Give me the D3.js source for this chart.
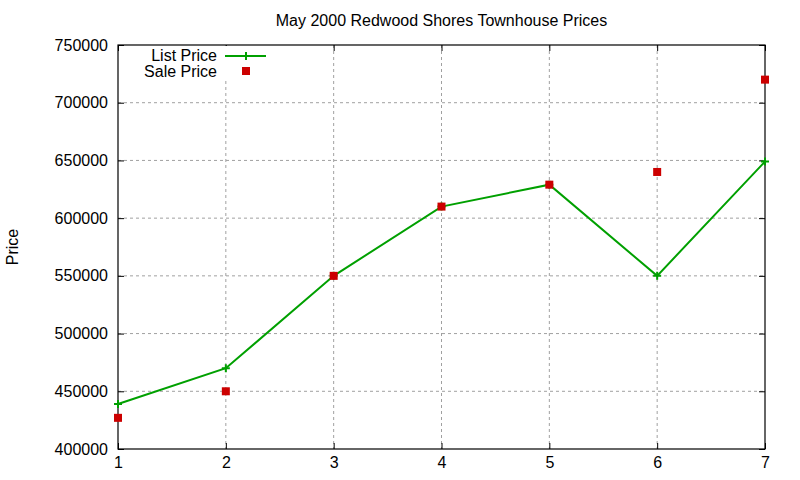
<!DOCTYPE html>
<html>
<head>
<meta charset="utf-8">
<script src="https://cdn.jsdelivr.net/npm/d3@7"></script>
<style>
  body { margin: 0; background: #fff; }
  text { font-family: "Liberation Sans", Arial, sans-serif; fill: #000; }
</style>
</head>
<body>
<svg width="800" height="480"></svg>
<script>
const days = [1, 2, 3, 4, 5, 6, 7];
const listPrice = [439000, 470000, 550000, 610000, 629000, 550000, 649000];
const salePrice = [427000, 450000, 550000, 610000, 629000, 640000, 720000];
const yTicks = [400000, 450000, 500000, 550000, 600000, 650000, 700000, 750000];

const margin = { left: 118, right: 35, top: 45, bottom: 31 };
const svg = d3.select('svg');
const width = +svg.attr('width');
const height = +svg.attr('height');
const innerWidth = width - margin.left - margin.right;
const innerHeight = height - margin.top - margin.bottom;

const g = svg.append('g')
	.attr('transform', `translate(${margin.left}, ${margin.top})`);

const xScale = d3.scaleLinear().domain([1, 7]).range([0, innerWidth]);
const yScale = d3.scaleLinear().domain([400000, 750000]).range([innerHeight, 0]);

// grid
g.selectAll('.vgrid')
	.data(days.slice(1, -1))
	.enter().append('line')
	.attr('x1', d => xScale(d)).attr('x2', d => xScale(d))
	.attr('y1', 0).attr('y2', innerHeight)
	.attr('stroke', '#a0a0a0').attr('stroke-dasharray', '3,3');

g.selectAll('.hgrid')
	.data(yTicks.slice(1, -1))
	.enter().append('line')
	.attr('x1', 0).attr('x2', innerWidth)
	.attr('y1', d => yScale(d)).attr('y2', d => yScale(d))
	.attr('stroke', '#a0a0a0').attr('stroke-dasharray', '3,3');

// axes (gnuplot style: ticks inside, mirrored)
const tickLen = 6;
const yAxis = d3.axisLeft(yScale).tickValues(yTicks).tickSize(-tickLen).tickPadding(10).tickFormat(d3.format('d'));
const yAxisR = d3.axisRight(yScale).tickValues(yTicks).tickSize(-tickLen);
const xAxis = d3.axisBottom(xScale).tickValues(days).tickSize(-tickLen).tickPadding(8).tickFormat(d3.format('d'));
const xAxisT = d3.axisTop(xScale).tickValues(days).tickSize(-tickLen);

function styleAxis(sel) {
	sel.attr('font-size', 16)
		.attr('font-family', '"Liberation Sans", Arial, sans-serif')
		.attr('fill', '#000');
	sel.select('.domain').remove();
	sel.selectAll('.tick line').attr('stroke', '#000');
}
// mirrored axes only need the tick marks
function ticksOnly(sel) {
	styleAxis(sel);
	sel.selectAll('.tick text').remove();
}

g.append('g').call(yAxis).call(styleAxis);
g.append('g').attr('transform', `translate(${innerWidth},0)`).call(yAxisR).call(ticksOnly);
g.append('g').attr('transform', `translate(0,${innerHeight})`).call(xAxis).call(styleAxis);
g.append('g').call(xAxisT).call(ticksOnly);

// legend background covers grid
g.append('rect')
	.attr('x', 20).attr('y', 1)
	.attr('width', 155).attr('height', 33)
	.attr('fill', '#fff');

// frame
g.append('rect')
	.attr('width', innerWidth).attr('height', innerHeight)
	.attr('fill', 'none').attr('stroke', '#000').attr('stroke-width', 1.2);

const green = '#00a000';
const red = '#cc0000';

// list price line
const line = d3.line()
	.x((d, i) => xScale(days[i]))
	.y(d => yScale(d));

g.append('path')
	.datum(listPrice)
	.attr('d', line)
	.attr('fill', 'none')
	.attr('stroke', green)
	.attr('stroke-width', 2);

const cross = 4;
g.selectAll('.cross')
	.data(listPrice)
	.enter().append('path')
	.attr('d', (d, i) => {
		const x = xScale(days[i]), y = yScale(d);
		return `M${x - cross},${y}H${x + cross}M${x},${y - cross}V${y + cross}`;
	})
	.attr('stroke', green).attr('stroke-width', 2);

// sale price squares
const sq = 8;
g.selectAll('.sale')
	.data(salePrice)
	.enter().append('rect')
	.attr('x', (d, i) => xScale(days[i]) - sq / 2)
	.attr('y', d => yScale(d) - sq / 2)
	.attr('width', sq).attr('height', sq)
	.attr('fill', red);

// legend
const legend = g.append('g');
legend.append('text')
	.attr('x', 99).attr('y', 16)
	.attr('font-size', 16).style('text-anchor', 'end')
	.text('List Price');
legend.append('line')
	.attr('x1', 107).attr('x2', 148).attr('y1', 11).attr('y2', 11)
	.attr('stroke', green).attr('stroke-width', 2);
legend.append('path')
	.attr('d', `M${128 - cross},11H${128 + cross}M128,${11 - cross}V${11 + cross}`)
	.attr('stroke', green).attr('stroke-width', 2);
legend.append('text')
	.attr('x', 99).attr('y', 32)
	.attr('font-size', 16).style('text-anchor', 'end')
	.text('Sale Price');
legend.append('rect')
	.attr('x', 128 - sq / 2).attr('y', 26 - sq / 2)
	.attr('width', sq).attr('height', sq)
	.attr('fill', red);

// title
svg.append('text')
	.attr('x', margin.left + innerWidth / 2)
	.attr('y', 26)
	.attr('font-size', 16)
	.style('text-anchor', 'middle')
	.text('May 2000 Redwood Shores Townhouse Prices');

// y label
svg.append('text')
	.attr('transform', `translate(18, ${margin.top + innerHeight / 2}) rotate(-90)`)
	.attr('font-size', 16)
	.style('text-anchor', 'middle')
	.text('Price');
</script>
</body>
</html>
